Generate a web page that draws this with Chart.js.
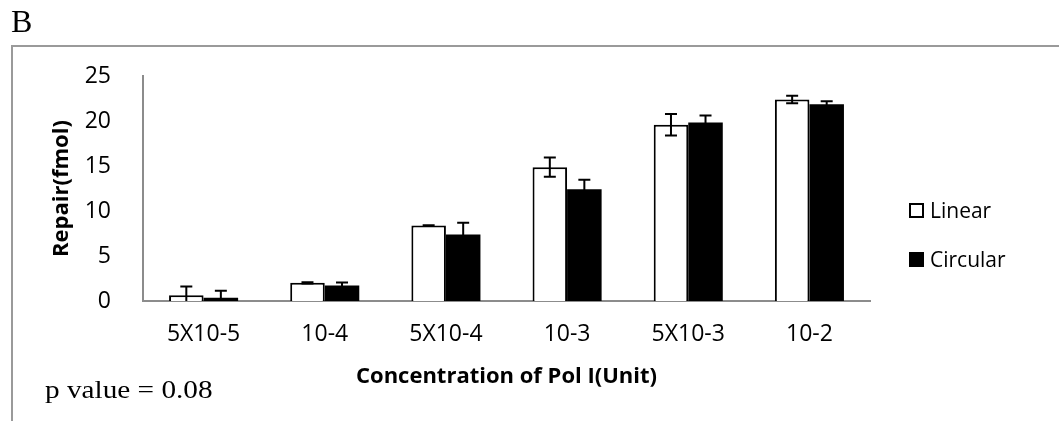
<!DOCTYPE html>
<html>
<head>
<meta charset="utf-8">
<script src="https://cdn.jsdelivr.net/npm/chart.js@4.4.1/dist/chart.umd.min.js"></script>
<style>
  html, body { margin: 0; padding: 0; background: #fff; }
  #wrap { position: relative; width: 1059px; height: 421px; overflow: hidden; }
  #c { position: absolute; left: 0; top: 0; }
  .frameTop { position: absolute; left: 11px; top: 45px; width: 1048px; height: 2px; background: #9a9a9a; }
  .frameLeft { position: absolute; left: 11px; top: 45px; width: 2px; height: 376px; background: #9a9a9a; }
  .panel { position: absolute; left: 11px; top: 3px; font-family: "Liberation Serif", "Times New Roman", serif; font-size: 32px; color: #000; line-height: 36px; }
  .pval { position: absolute; left: 45px; top: 375px; font-family: "Liberation Serif", "Times New Roman", serif; font-size: 25px; color: #000; line-height: 30px; white-space: nowrap; transform-origin: left center; transform: scaleX(1.17); }
  .leg { position: absolute; left: 909px; font-family: "Open Sans", sans-serif; font-size: 21px; color: #000; white-space: nowrap; }
  .leg .box { position: absolute; left: 0; width: 15px; height: 15px; box-sizing: border-box; }
  .leg .txt { position: absolute; left: 21px; line-height: 26px; }
</style>
</head>
<body>
<div id="wrap">
  <canvas id="c" width="1059" height="421"></canvas>
  <div class="frameTop"></div>
  <div class="frameLeft"></div>
  <div class="panel">B</div>
  <div class="pval">p value = 0.08</div>
  <div id="legend"></div>
</div>
<script>
const categories = ["5X10-5", "10-4", "5X10-4", "10-3", "5X10-3", "10-2"];
const linearValues = [0.65, 2.02, 8.39, 14.87, 19.58, 22.39];
const linearErrors = [0.96, 0.07, 0.04, 1.07, 1.19, 0.41];
const circularValues = [0.36, 1.72, 7.39, 12.42, 19.83, 21.87];
const circularErrors = [0.77, 0.33, 1.30, 1.04, 0.78, 0.33];
const yTicks = [0, 5, 10, 15, 20, 25];
const seriesNames = ["Linear", "Circular"];

const errorBarPlugin = {
  id: 'errorBars',
  afterDatasetsDraw(chart) {
    const ctx = chart.ctx;
    const yScale = chart.scales.y;
    ctx.save();
    ctx.strokeStyle = '#000';
    ctx.lineWidth = 2;
    chart.data.datasets.forEach((ds, di) => {
      const meta = chart.getDatasetMeta(di);
      meta.data.forEach((bar, i) => {
        const v = ds.data[i];
        const e = ds.errors[i];
        const x = bar.x;
        const yTop = yScale.getPixelForValue(v + e);
        const yBot = yScale.getPixelForValue(Math.max(0, v - e));
        const half = 6;
        ctx.beginPath();
        ctx.moveTo(x, yTop);
        ctx.lineTo(x, yBot);
        ctx.moveTo(x - half, yTop);
        ctx.lineTo(x + half, yTop);
        if (v - e > 0) {
          ctx.moveTo(x - half, yBot);
          ctx.lineTo(x + half, yBot);
        }
        ctx.stroke();
      });
    });
    ctx.restore();
  }
};

const chart = new Chart(document.getElementById('c'), {
  type: 'bar',
  data: {
    labels: categories,
    datasets: [
      {
        label: seriesNames[0],
        data: linearValues,
        errors: linearErrors,
        backgroundColor: '#ffffff',
        borderColor: '#000000',
        borderWidth: 2,
        borderSkipped: 'bottom'
      },
      {
        label: seriesNames[1],
        data: circularValues,
        errors: circularErrors,
        backgroundColor: '#000000',
        borderColor: '#000000',
        borderWidth: 0
      }
    ]
  },
  options: {
    responsive: false,
    devicePixelRatio: 1,
    animation: false,
    layout: { padding: { left: 0, top: 76, right: 189, bottom: 0 } },
    datasets: { bar: { categoryPercentage: 0.57, barPercentage: 1.0 } },
    plugins: {
      legend: { display: false },
      tooltip: { enabled: false }
    },
    scales: {
      x: {
        grid: { display: false, drawTicks: false },
        border: { display: true, color: '#8c8c8c', width: 2 },
        ticks: {
          color: '#000',
          padding: 20,
          font: { family: 'Open Sans', size: 23 },
          maxRotation: 0,
          autoSkip: false
        },
        title: {
          display: true,
          text: 'Concentration of Pol I(Unit)',
          color: '#000',
          font: { family: 'Open Sans', size: 22, weight: 'bold' },
          padding: { top: 0, bottom: 31 }
        },
        afterFit(scale) { scale.height = 120; }
      },
      y: {
        min: 0,
        max: 25,
        afterBuildTicks(scale) { scale.ticks = yTicks.map(v => ({ value: v })); },
        grid: { display: false, drawTicks: false },
        border: { display: true, color: '#8c8c8c', width: 2 },
        ticks: {
          color: '#000',
          padding: 32,
          font: { family: 'Open Sans', size: 23 }
        },
        title: {
          display: true,
          text: 'Repair(fmol)',
          color: '#000',
          font: { family: 'Open Sans', size: 22, weight: 'bold' },
          padding: { top: 49, bottom: 0 }
        },
        afterFit(scale) { scale.width = 143; }
      }
    }
  },
  plugins: [errorBarPlugin]
});

// HTML legend built from dataset labels
const legendEl = document.getElementById('legend');
const legendTops = [203, 252];
chart.data.datasets.forEach((ds, i) => {
  const item = document.createElement('div');
  item.className = 'leg';
  item.style.top = legendTops[i] + 'px';
  const box = document.createElement('div');
  box.className = 'box';
  box.style.top = '0px';
  if (ds.backgroundColor === '#ffffff') {
    box.style.border = '2px solid #000';
    box.style.background = '#fff';
  } else {
    box.style.background = '#000';
  }
  const txt = document.createElement('div');
  txt.className = 'txt';
  txt.style.top = '-6px';
  txt.textContent = ds.label;
  item.appendChild(box);
  item.appendChild(txt);
  legendEl.appendChild(item);
});
</script>
</body>
</html>
